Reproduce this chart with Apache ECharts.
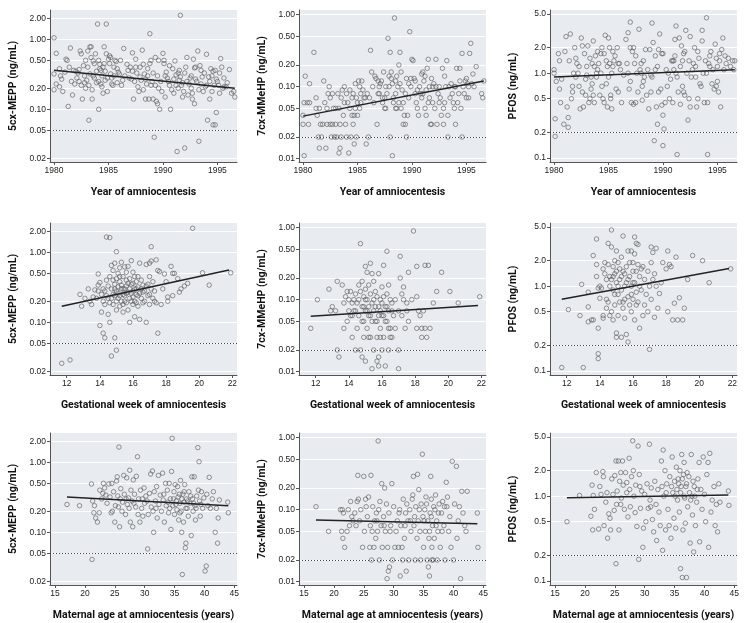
<!DOCTYPE html>
<html><head><meta charset="utf-8">
<script src="https://cdn.jsdelivr.net/npm/echarts@6/dist/echarts.min.js"></script>
<style>html,body{margin:0;padding:0;background:#fff}#c{width:750px;height:623px}</style>
</head><body><div id="c"></div>
<script>
// ---------- tick labels ----------
const yearTicks = [1980, 1985, 1990, 1995];
const gestTicks = [12, 14, 16, 18, 20, 22];
const ageTicks = [15, 20, 25, 30, 35, 40, 45];
const meppTicks = [0.02, 0.05, 0.1, 0.2, 0.5, 1, 2];
const meppTickLabels = ['0.02', '0.05', '0.10', '0.20', '0.50', '1.00', '2.00'];
const mmehpTicks = [0.01, 0.02, 0.05, 0.1, 0.2, 0.5, 1];
const mmehpTickLabels = ['0.01', '0.02', '0.05', '0.10', '0.20', '0.50', '1.00'];
const pfosTicks = [0.1, 0.2, 0.5, 1, 2, 5];
const pfosTickLabels = ['0.1', '0.2', '0.5', '1.0', '2.0', '5.0'];
const lodMEPP = 0.05, lodMMeHP = 0.02, lodPFOS = 0.2;
const xTitles = ['Year of amniocentesis', 'Gestational week of amniocentesis', 'Maternal age at amniocentesis (years)'];
const yTitles = ['5cx-MEPP (ng/mL)', '7cx-MMeHP (ng/mL)', 'PFOS (ng/mL)'];

// ---------- row 1: year of amniocentesis ----------
const meppYear = [[1980.0,1.05],[1980.2,0.63],[1980.0,0.32],[1980.0,0.19],[1980.2,0.23],[1980.5,0.38],[1980.6,0.30],[1980.7,0.27],[1980.5,0.21],[1980.8,0.18],
[1981.1,0.52],[1981.2,0.50],[1981.0,0.34],[1981.3,0.11],[1981.4,0.40],[1981.5,0.75],[1981.6,0.25],[1981.7,0.16],[1981.8,0.36],[1981.9,0.23],
[1982.0,0.35],[1982.2,0.33],[1982.3,0.25],[1982.4,0.68],[1982.5,0.62],[1982.5,0.22],[1982.6,0.14],[1982.7,0.42],[1982.8,0.30],[1982.9,0.50],[1982.9,0.20],[1982.3,0.37],
[1983.1,0.68],[1983.2,0.07],[1983.3,0.78],[1983.4,0.78],[1983.3,0.32],[1983.5,0.14],[1983.5,0.19],[1983.6,0.49],[1983.7,0.45],[1983.7,0.28],[1983.8,0.62],[1983.9,0.35],[1983.0,0.26],[1983.2,0.22],[1983.6,0.30],
[1984.0,1.65],[1984.1,0.10],[1984.2,0.38],[1984.3,0.23],[1984.4,0.30],[1984.5,0.17],[1984.6,0.45],[1984.6,0.78],[1984.7,0.35],[1984.8,1.65],[1984.8,0.62],[1984.9,0.28],[1984.9,0.18],[1984.3,0.36],[1984.5,0.40],[1984.7,0.26],[1984.1,0.25],
[1985.0,0.52],[1985.1,0.45],[1985.2,0.55],[1985.2,0.32],[1985.3,0.28],[1985.4,0.22],[1985.5,0.40],[1985.6,0.50],[1985.7,0.48],[1985.8,0.24],[1985.9,0.34],[1985.1,0.58],[1985.3,0.23],
[1986.0,0.32],[1986.1,0.50],[1986.3,0.26],[1986.4,0.74],[1986.5,0.30],[1986.7,0.44],[1986.8,0.36],
[1987.0,0.40],[1987.1,0.27],[1987.2,0.64],[1987.3,0.14],[1987.4,0.25],[1987.5,0.40],[1987.6,0.33],[1987.7,0.21],[1987.8,0.18],[1987.9,0.40],[1987.5,0.52],[1987.9,0.29],
[1988.0,0.26],[1988.1,0.70],[1988.2,0.19],[1988.3,0.32],[1988.4,0.14],[1988.5,0.23],[1988.6,0.38],[1988.7,0.14],[1988.8,0.45],[1988.8,1.20],[1988.9,0.50],[1988.9,0.22],[1988.2,0.44],[1988.6,0.30],
[1989.0,0.25],[1989.1,0.14],[1989.2,0.04],[1989.3,0.22],[1989.4,0.13],[1989.5,0.30],[1989.6,0.20],[1989.6,0.50],[1989.7,0.10],[1989.8,0.25],[1989.9,0.18],[1989.3,0.55],[1989.5,0.12],
[1990.0,0.63],[1990.1,0.45],[1990.1,0.50],[1990.2,0.15],[1990.3,0.34],[1990.4,0.28],[1990.6,0.22],[1990.7,0.10],[1990.8,0.19],[1990.9,0.38],[1990.5,0.25],
[1991.0,0.17],[1991.1,0.49],[1991.2,0.31],[1991.3,0.025],[1991.4,0.33],[1991.4,0.20],[1991.5,0.26],[1991.6,2.20],[1991.7,0.22],[1991.8,0.15],[1991.9,0.18],[1991.2,0.22],[1991.6,0.29],[1991.8,0.24],
[1992.0,0.028],[1992.1,0.40],[1992.2,0.55],[1992.3,0.16],[1992.4,0.23],[1992.5,0.28],[1992.6,0.20],[1992.7,0.14],[1992.8,0.52],[1992.9,0.39],[1992.9,0.12],[1992.2,0.25],[1992.7,0.17],
[1993.0,0.27],[1993.2,0.68],[1993.3,0.035],[1993.3,0.19],[1993.4,0.42],[1993.5,0.36],[1993.6,0.29],[1993.7,0.18],[1993.8,0.33],[1993.9,0.21],[1993.0,0.40],[1993.5,0.23],
[1994.0,0.61],[1994.1,0.07],[1994.2,0.29],[1994.3,0.25],[1994.3,0.14],[1994.4,0.38],[1994.5,0.18],[1994.6,0.35],[1994.6,0.06],[1994.8,0.06],[1994.9,0.09],[1994.7,0.22],[1994.9,0.27],[1994.8,0.36],
[1995.0,0.25],[1995.1,0.22],[1995.2,0.33],[1995.3,0.53],[1995.4,0.40],[1995.5,0.20],[1995.6,0.28],[1995.8,0.21],[1995.2,0.17],[1995.9,0.24],
[1996.1,0.37],[1996.3,0.17],[1996.5,0.18],[1996.6,0.15],
[1982.1,0.28],[1982.8,0.24],[1983.1,0.40],[1983.9,0.24],[1984.2,0.44],[1984.4,0.21],[1985.5,0.30],[1985.8,0.38],[1986.2,0.22],[1987.2,0.35],[1988.4,0.27],[1989.1,0.33],
[1990.2,0.30],[1990.6,0.42],[1991.0,0.27],[1991.5,0.36],[1992.0,0.33],[1992.6,0.30],[1993.1,0.25],[1994.0,0.22],[1994.5,0.30],[1995.6,0.21],[1983.4,0.55],[1984.1,0.50],[1986.9,0.28]];
const meppYearFit = [[1980, 0.36], [1996.6, 0.20]];

const mmehpYear = [[1980.0,0.04],[1980.0,0.03],[1980.1,0.011],[1980.2,0.14],[1980.1,0.06],[1980.6,0.11],[1980.5,0.03],[1980.4,0.06],[1980.6,0.06],
[1981.0,0.30],[1981.2,0.07],[1981.3,0.04],[1981.2,0.05],[1981.4,0.02],[1981.5,0.014],[1981.5,0.05],[1981.6,0.03],[1981.7,0.02],[1981.8,0.03],[1981.9,0.12],
[1982.1,0.014],[1982.2,0.05],[1982.3,0.08],[1982.4,0.10],[1982.5,0.03],[1982.5,0.07],[1982.6,0.02],[1982.7,0.03],[1982.8,0.05],[1982.9,0.02],[1982.7,0.08],[1982.2,0.03],
[1983.0,0.03],[1983.1,0.02],[1983.2,0.08],[1983.3,0.012],[1983.3,0.05],[1983.4,0.014],[1983.5,0.02],[1983.5,0.07],[1983.6,0.09],[1983.7,0.04],[1983.8,0.10],[1983.9,0.03],[1983.8,0.06],[1983.4,0.03],
[1984.0,0.02],[1984.1,0.06],[1984.2,0.012],[1984.3,0.05],[1984.4,0.02],[1984.5,0.07],[1984.5,0.04],[1984.6,0.08],[1984.6,0.03],[1984.7,0.016],[1984.8,0.05],[1984.8,0.11],[1984.9,0.02],[1984.9,0.07],[1984.3,0.09],[1984.7,0.04],
[1985.0,0.04],[1985.1,0.12],[1985.2,0.10],[1985.3,0.06],[1985.3,0.08],[1985.4,0.12],[1985.5,0.09],[1985.6,0.07],[1985.7,0.07],[1985.8,0.016],[1985.9,0.08],[1985.2,0.05],
[1986.0,0.02],[1986.2,0.32],[1986.3,0.16],[1986.5,0.06],[1986.6,0.14],[1986.7,0.13],[1986.8,0.03],[1986.9,0.12],[1986.9,0.08],[1986.4,0.10],
[1987.0,0.10],[1987.1,0.11],[1987.2,0.12],[1987.3,0.06],[1987.4,0.16],[1987.5,0.05],[1987.5,0.07],[1987.6,0.05],[1987.7,0.08],[1987.8,0.47],[1987.9,0.14],[1987.9,0.10],[1987.3,0.07],
[1988.0,0.30],[1988.1,0.16],[1988.1,0.13],[1988.2,0.11],[1988.2,0.011],[1988.3,0.06],[1988.4,0.90],[1988.5,0.05],[1988.5,0.12],[1988.6,0.14],[1988.7,0.10],[1988.8,0.20],[1988.9,0.30],[1988.9,0.11],[1988.0,0.02],[1988.6,0.05],[1988.3,0.07],
[1989.0,0.16],[1989.1,0.09],[1989.2,0.06],[1989.3,0.04],[1989.4,0.03],[1989.5,0.02],[1989.5,0.13],[1989.6,0.04],[1989.7,0.11],[1989.8,0.58],[1989.9,0.10],[1989.9,0.13],[1989.4,0.08],[1989.2,0.03],[1989.7,0.07],
[1990.0,0.24],[1990.1,0.23],[1990.2,0.13],[1990.3,0.08],[1990.4,0.06],[1990.5,0.09],[1990.6,0.04],[1990.7,0.10],[1990.8,0.08],[1990.9,0.15],[1990.9,0.07],
[1991.0,0.16],[1991.1,0.12],[1991.2,0.14],[1991.2,0.05],[1991.3,0.04],[1991.4,0.18],[1991.5,0.06],[1991.5,0.24],[1991.6,0.10],[1991.7,0.03],[1991.8,0.03],[1991.9,0.10],[1991.3,0.09],[1991.6,0.07],[1991.9,0.06],
[1992.0,0.11],[1992.1,0.05],[1992.2,0.24],[1992.3,0.03],[1992.4,0.08],[1992.5,0.10],[1992.6,0.07],[1992.7,0.04],[1992.8,0.18],[1992.9,0.05],[1992.9,0.03],[1992.5,0.06],
[1993.0,0.14],[1993.1,0.10],[1993.2,0.23],[1993.3,0.02],[1993.4,0.10],[1993.5,0.07],[1993.6,0.11],[1993.7,0.08],[1993.8,0.06],[1993.9,0.05],[1993.3,0.04],[1993.9,0.10],
[1994.0,0.03],[1994.1,0.18],[1994.2,0.06],[1994.3,0.08],[1994.4,0.12],[1994.5,0.05],[1994.6,0.29],[1994.6,0.02],[1994.7,0.10],[1994.8,0.08],[1994.9,0.12],[1994.4,0.18],
[1995.0,0.13],[1995.1,0.11],[1995.2,0.07],[1995.3,0.29],[1995.4,0.40],[1995.5,0.11],[1995.6,0.15],[1995.7,0.10],[1995.9,0.19],[1995.2,0.10],
[1996.4,0.08],[1996.5,0.07],[1996.6,0.12],
[1982.0,0.06],[1983.0,0.05],[1984.0,0.08],[1985.0,0.06],[1986.1,0.07],[1987.0,0.08],[1988.8,0.06],[1989.0,0.05],[1990.5,0.05],[1991.0,0.08],[1992.2,0.10],[1993.0,0.06],
[1994.0,0.10],[1995.0,0.07],[1990.3,0.12],[1991.8,0.13],[1988.5,0.08],[1987.6,0.10]];
const mmehpYearFit = [[1980, 0.039], [1996.6, 0.12]];

const pfosYear = [[1980.0,1.1],[1980.0,1.0],[1980.1,0.29],[1980.1,0.18],[1980.2,0.8],[1980.4,1.7],[1980.5,0.65],[1980.5,1.4],[1980.6,0.45],[1980.7,0.85],[1980.9,0.25],
[1981.0,1.8],[1981.1,2.7],[1981.2,0.40],[1981.3,0.23],[1981.3,0.30],[1981.4,1.4],[1981.5,2.9],[1981.6,0.5],[1981.7,0.7],[1981.8,1.0],[1981.9,2.0],[1981.7,0.6],
[1982.0,1.5],[1982.1,1.3],[1982.2,1.0],[1982.3,0.7],[1982.4,0.38],[1982.5,2.6],[1982.6,2.1],[1982.6,0.6],[1982.7,0.4],[1982.8,1.7],[1982.9,0.85],[1982.9,0.55],[1982.3,1.2],
[1983.0,1.2],[1983.1,2.1],[1983.2,0.45],[1983.3,1.5],[1983.4,0.9],[1983.4,0.65],[1983.5,1.3],[1983.5,0.75],[1983.6,2.4],[1983.6,0.55],[1983.7,1.2],[1983.8,1.6],[1983.9,0.9],[1983.9,1.0],[1983.3,0.5],[1983.7,0.45],
[1984.0,1.8],[1984.1,1.3],[1984.2,0.55],[1984.3,1.0],[1984.4,0.7],[1984.4,2.0],[1984.5,0.5],[1984.6,1.7],[1984.7,2.8],[1984.8,0.75],[1984.8,1.4],[1984.9,0.4],[1984.9,1.2],[1984.3,1.7],[1984.6,0.45],
[1985.0,2.6],[1985.1,2.0],[1985.1,1.3],[1985.2,0.5],[1985.3,0.38],[1985.3,1.0],[1985.4,1.8],[1985.5,1.4],[1985.6,1.6],[1985.7,0.65],[1985.8,2.0],[1985.9,0.6],[1985.2,0.55],[1985.4,1.2],[1985.9,1.3],
[1986.1,1.1],[1986.2,0.45],[1986.4,0.95],[1986.6,2.5],[1986.7,1.3],[1986.8,3.0],[1986.9,0.65],[1986.8,1.0],
[1987.0,4.0],[1987.0,2.0],[1987.1,0.45],[1987.2,1.8],[1987.3,0.43],[1987.4,1.3],[1987.5,0.45],[1987.6,1.0],[1987.7,0.6],[1987.8,3.3],[1987.9,1.1],[1987.5,1.6],[1987.3,2.0],
[1988.0,1.0],[1988.1,0.7],[1988.1,0.48],[1988.2,1.4],[1988.3,0.9],[1988.4,1.9],[1988.5,0.55],[1988.6,1.1],[1988.7,0.38],[1988.8,1.9],[1988.9,0.6],[1988.9,0.95],[1988.2,0.8],
[1989.0,3.9],[1989.1,2.3],[1989.2,0.16],[1989.3,1.6],[1989.4,0.4],[1989.5,1.2],[1989.5,0.25],[1989.6,1.9],[1989.7,2.9],[1989.8,0.65],[1989.9,1.7],[1989.9,0.42],[1989.3,1.1],[1989.6,0.6],
[1990.0,0.32],[1990.0,0.14],[1990.1,0.22],[1990.2,0.45],[1990.3,1.1],[1990.4,0.7],[1990.5,1.0],[1990.6,0.5],[1990.7,0.85],[1990.8,1.4],[1990.9,0.45],[1990.9,1.4],
[1991.0,1.4],[1991.1,1.6],[1991.1,2.5],[1991.2,3.6],[1991.3,0.11],[1991.3,0.9],[1991.4,0.6],[1991.5,2.6],[1991.6,1.2],[1991.6,0.43],[1991.7,2.1],[1991.8,0.7],[1991.9,1.7],[1991.9,0.6],[1991.2,1.0],[1991.8,1.4],
[1992.0,0.55],[1992.1,3.2],[1992.2,1.0],[1992.3,0.28],[1992.4,1.4],[1992.5,2.7],[1992.5,0.4],[1992.6,0.9],[1992.7,1.1],[1992.8,1.3],[1992.9,2.0],[1992.4,0.5],
[1993.0,1.2],[1993.1,0.4],[1993.2,0.5],[1993.3,1.5],[1993.4,0.75],[1993.5,0.7],[1993.6,3.2],[1993.6,2.4],[1993.7,1.0],[1993.8,0.45],[1993.9,1.4],[1993.2,1.8],
[1994.0,4.5],[1994.1,0.11],[1994.1,0.45],[1994.2,1.3],[1994.3,1.6],[1994.4,1.8],[1994.5,0.75],[1994.6,1.1],[1994.7,0.65],[1994.8,2.2],[1994.9,1.5],[1994.9,0.7],[1994.3,1.2],
[1995.0,0.8],[1995.1,0.6],[1995.2,1.4],[1995.3,0.4],[1995.4,1.9],[1995.5,2.6],[1995.6,1.1],[1995.7,1.6],[1995.8,1.3],[1995.2,1.7],
[1996.0,1.5],[1996.2,1.2],[1996.4,1.4],[1996.5,1.1],[1996.6,1.4],
[1983.0,0.95],[1984.0,1.1],[1985.0,0.9],[1986.0,1.3],[1988.0,1.3],[1990.0,1.7],[1991.0,1.1],[1992.0,1.8],[1993.0,0.9],[1994.0,1.0],[1995.0,1.2],[1982.0,0.9],[1989.0,0.9],[1987.0,0.8]];
const pfosYearFit = [[1980, 0.90], [1996.6, 1.10]];

// ---------- row 2: gestational week ----------
const meppGest = [[11.7,0.026],[12.2,0.029],[12.8,0.25],[12.9,0.17],[13.1,0.22],[13.3,0.30],[13.4,0.20],[13.5,0.18],[13.6,0.23],[13.7,0.29],[13.8,0.22],[13.9,0.49],[13.9,0.34],
[14.0,0.09],[14.0,0.37],[14.1,0.25],[14.1,0.14],[14.2,0.07],[14.2,0.30],[14.3,0.06],[14.3,0.18],[14.4,1.65],[14.4,0.40],[14.5,0.13],[14.5,0.22],[14.6,1.62],[14.6,0.10],[14.6,0.45],
[14.7,0.65],[14.7,0.30],[14.7,0.033],[14.8,0.55],[14.8,0.25],[14.8,0.18],[14.9,0.06],[14.9,0.70],[14.9,0.35],[15.0,1.02],[15.0,0.04],[15.0,0.28],[15.0,0.15],[15.1,0.50],[15.1,0.22],
[15.2,0.60],[15.2,0.38],[15.2,0.17],[15.3,0.72],[15.3,0.30],[15.4,0.45],[15.4,0.25],[15.4,0.14],[15.5,0.62],[15.5,0.20],[15.6,0.52],[15.6,0.33],[15.7,0.63],[15.7,0.27],[15.7,0.15],
[15.8,0.42],[15.8,0.10],[15.8,0.22],[15.9,0.76],[15.9,0.35],[16.0,0.52],[16.0,0.28],[16.0,0.18],[16.1,0.45],[16.1,0.12],[16.2,0.38],[16.2,0.25],[16.3,0.32],[16.3,0.17],[16.4,0.70],
[16.4,0.11],[16.5,0.40],[16.5,0.22],[16.6,0.34],[16.6,0.19],[16.7,0.28],[16.8,0.67],[16.8,0.10],[16.9,0.24],[17.0,0.70],[17.0,0.45],[17.0,0.18],[17.1,1.20],[17.1,0.75],[17.1,0.30],
[17.2,0.38],[17.2,0.22],[17.3,0.28],[17.4,0.78],[17.4,0.19],[17.5,0.55],[17.5,0.07],[17.6,0.53],[17.7,0.18],[17.8,0.30],[17.9,0.49],[18.0,0.38],[18.1,0.23],[18.1,0.20],[18.3,0.63],
[18.4,0.50],[18.4,0.24],[18.5,0.50],[18.7,0.42],[18.8,0.27],[18.9,0.30],[19.1,0.33],[19.3,0.36],[19.6,2.20],[20.2,0.51],[20.6,0.34],[21.9,0.51],
[14.5,0.33],[14.9,0.24],[15.1,0.32],[15.3,0.20],[15.6,0.26],[15.9,0.20],[16.1,0.30],[16.3,0.24],[16.6,0.27],[16.9,0.35],[15.5,0.30],[15.0,0.42],[16.0,0.36],[14.2,0.20],[13.9,0.28],
[14.3,0.28],[14.4,0.24],[14.6,0.19],[14.7,0.22],[14.8,0.40],[15.0,0.20],[15.1,0.26],[15.2,0.24],[15.3,0.34],[15.4,0.18],[15.4,0.30],[15.5,0.24],[15.6,0.19],[15.7,0.36],[15.8,0.30],
[15.9,0.26],[16.0,0.23],[16.1,0.20],[16.2,0.19],[16.2,0.30],[16.4,0.26],[16.5,0.30],[16.7,0.20],[16.8,0.33],[17.0,0.25],[17.3,0.20],[15.2,0.45],[15.6,0.40],[16.3,0.45],[14.9,0.30]];
const meppGestFit = [[11.7, 0.17], [21.8, 0.56]];

const mmehpGest = [[11.7,0.04],[12.1,0.10],[12.8,0.14],[12.9,0.07],[13.0,0.08],[13.2,0.07],[13.3,0.18],[13.3,0.02],[13.4,0.016],[13.6,0.16],[13.7,0.09],[13.7,0.04],[13.8,0.11],
[13.9,0.13],[13.9,0.05],[14.0,0.07],[14.0,0.10],[14.1,0.13],[14.1,0.06],[14.2,0.09],[14.2,0.03],[14.3,0.10],[14.3,0.07],[14.4,0.12],[14.4,0.02],[14.5,0.09],[14.5,0.04],[14.6,0.16],
[14.6,0.06],[14.7,0.60],[14.7,0.13],[14.7,0.02],[14.8,0.18],[14.8,0.08],[14.8,0.016],[14.9,0.11],[14.9,0.05],[14.9,0.03],[15.0,0.29],[15.0,0.14],[15.0,0.07],[15.0,0.014],[15.1,0.24],
[15.1,0.10],[15.1,0.04],[15.2,0.16],[15.2,0.06],[15.3,0.32],[15.3,0.12],[15.3,0.03],[15.4,0.23],[15.4,0.09],[15.4,0.011],[15.5,0.18],[15.5,0.07],[15.5,0.02],[15.6,0.13],[15.6,0.05],
[15.7,0.11],[15.7,0.03],[15.7,0.014],[15.8,0.23],[15.8,0.08],[15.8,0.012],[15.8,0.016],[15.9,0.10],[15.9,0.04],[16.0,0.15],[16.0,0.06],[16.0,0.02],[16.1,0.30],[16.1,0.11],[16.1,0.03],
[16.2,0.012],[16.2,0.08],[16.3,0.47],[16.3,0.12],[16.3,0.05],[16.4,0.16],[16.4,0.07],[16.4,0.02],[16.5,0.10],[16.5,0.04],[16.6,0.09],[16.6,0.03],[16.7,0.06],[16.8,0.10],[16.8,0.04],
[17.0,0.011],[17.0,0.02],[17.0,0.07],[17.1,0.20],[17.1,0.40],[17.2,0.12],[17.2,0.06],[17.3,0.15],[17.3,0.10],[17.4,0.04],[17.5,0.07],[17.5,0.09],[17.6,0.24],[17.6,0.05],[17.8,0.10],
[17.9,0.90],[18.1,0.29],[18.1,0.11],[18.1,0.04],[18.2,0.07],[18.3,0.06],[18.4,0.03],[18.4,0.04],[18.5,0.07],[18.6,0.30],[18.6,0.04],[18.7,0.03],[18.8,0.30],[18.9,0.04],[19.1,0.09],
[19.3,0.13],[19.6,0.24],[20.1,0.13],[20.6,0.09],[21.9,0.11],
[14.2,0.06],[14.4,0.07],[14.6,0.10],[14.8,0.05],[15.0,0.10],[15.2,0.08],[15.4,0.05],[15.6,0.08],[15.8,0.06],[16.0,0.09],[16.2,0.05],[16.4,0.04],[16.6,0.07],[15.1,0.07],[15.5,0.10],
[15.9,0.07],[16.3,0.08],[15.3,0.06],[14.9,0.08],[16.1,0.06],[15.7,0.05],[15.9,0.03],[15.2,0.03],[16.5,0.03]];
const mmehpGestFit = [[11.7, 0.059], [21.8, 0.083]];

const pfosGest = [[11.7,0.11],[12.1,0.53],[12.8,0.45],[12.9,1.05],[13.0,0.11],[13.3,0.85],[13.3,0.38],[13.3,0.57],[13.5,0.40],[13.6,0.40],[13.6,2.3],[13.8,1.8],[13.8,3.6],[13.8,1.3],
[13.9,0.95],[13.9,0.32],[13.9,0.16],[13.9,0.14],[14.0,1.0],[14.0,0.72],[14.1,0.95],[14.2,1.6],[14.2,0.45],[14.2,0.42],[14.3,1.9],[14.3,1.4],[14.4,0.7],[14.4,0.55],[14.5,3.2],[14.5,1.8],
[14.5,0.65],[14.6,1.3],[14.6,0.45],[14.7,4.6],[14.7,2.9],[14.7,1.2],[14.7,0.5],[14.8,1.7],[14.8,0.9],[14.8,0.4],[14.9,2.0],[14.9,1.4],[14.9,0.6],[15.0,2.6],[15.0,1.1],[15.0,0.28],
[15.0,0.25],[15.1,1.9],[15.1,0.8],[15.1,0.45],[15.2,1.6],[15.2,0.65],[15.3,2.2],[15.3,1.3],[15.3,0.25],[15.4,3.9],[15.4,1.5],[15.4,0.55],[15.5,1.0],[15.5,0.42],[15.6,1.7],[15.6,0.27],
[15.7,2.6],[15.7,1.2],[15.7,0.22],[15.7,0.75],[15.8,1.9],[15.8,0.6],[15.9,2.6],[15.9,1.0],[15.9,0.5],[16.0,1.5],[16.0,0.7],[16.1,3.8],[16.1,2.4],[16.1,1.1],[16.1,0.4],[16.2,3.2],
[16.2,0.85],[16.3,3.1],[16.3,1.8],[16.3,0.65],[16.4,1.3],[16.4,0.32],[16.5,1.6],[16.5,0.9],[16.6,0.45],[16.7,1.2],[16.7,0.6],[16.8,0.8],[16.9,1.5],[16.9,0.5],[17.0,0.18],[17.0,1.0],
[17.1,2.9],[17.1,1.9],[17.1,0.7],[17.2,2.5],[17.2,1.2],[17.3,0.43],[17.3,1.4],[17.4,2.8],[17.4,1.0],[17.5,0.55],[17.6,0.82],[17.7,1.1],[17.8,1.9],[18.0,1.6],[18.1,2.6],[18.1,0.5],
[18.2,1.8],[18.3,1.7],[18.4,0.4],[18.5,0.63],[18.6,2.2],[18.7,0.4],[18.8,0.73],[19.0,0.4],[19.1,0.55],[19.3,1.2],[19.6,2.3],[20.2,2.0],[20.6,1.1],[21.9,1.6],
[14.4,1.2],[14.6,1.0],[14.8,1.3],[15.0,1.5],[15.2,1.2],[15.3,0.9],[15.5,1.4],[15.6,1.1],[15.8,1.3],[16.0,1.1],[16.2,1.5],[16.4,1.0],[16.6,1.7],[15.1,1.0],[15.5,0.7],
[15.9,0.8],[16.2,0.6],[14.9,0.8],[15.4,0.65],[16.0,1.9]];
const pfosGestFit = [[11.7, 0.70], [21.8, 1.62]];

// ---------- row 3: maternal age ----------
const meppAge = [[17.0,0.25],[19.1,0.24],[21.1,0.49],[21.2,0.041],[21.3,0.28],[21.5,0.19],[21.6,0.24],[21.8,0.16],[22.1,0.14],[22.4,0.19],[22.5,0.40],[22.8,0.30],[23.0,0.36],[23.1,0.50],
[23.3,0.43],[23.5,0.34],[23.7,0.26],[24.0,0.49],[24.2,0.32],[24.4,0.19],[24.5,0.50],[24.6,0.20],[24.8,0.38],[25.0,0.14],[25.1,0.24],[25.3,0.54],[25.4,0.62],[25.5,0.33],[25.6,0.23],
[25.7,1.65],[25.8,0.12],[25.9,0.30],[26.0,0.42],[26.2,0.20],[26.3,0.27],[26.5,0.65],[26.6,0.35],[26.8,0.18],[27.0,0.60],[27.1,0.25],[27.3,0.31],[27.4,0.22],[27.5,0.77],[27.6,0.14],
[27.7,0.40],[27.9,0.28],[28.0,0.12],[28.1,0.56],[28.3,0.35],[28.5,0.23],[28.6,0.63],[28.8,1.20],[28.9,0.18],[29.0,0.30],[29.2,0.14],[29.3,0.40],[29.5,0.22],[29.7,0.17],[29.9,0.43],
[30.0,0.26],[30.2,0.33],[30.5,0.058],[30.6,0.18],[30.8,0.36],[31.0,0.68],[31.1,0.23],[31.3,0.75],[31.4,0.20],[31.5,0.10],[31.6,0.38],[31.8,0.28],[32.0,0.45],[32.1,0.16],[32.3,0.65],
[32.4,0.25],[32.6,0.34],[32.8,0.20],[33.0,0.70],[33.1,0.29],[33.3,0.14],[33.5,0.50],[33.6,0.24],[33.8,0.40],[34.0,0.19],[34.1,0.50],[34.3,0.30],[34.4,0.11],[34.5,0.74],[34.6,2.20],
[34.7,0.24],[34.9,0.38],[35.0,0.18],[35.1,0.48],[35.3,0.28],[35.4,0.21],[35.5,0.45],[35.6,0.32],[35.7,0.15],[35.9,0.26],[36.0,0.55],[36.1,0.20],[36.2,0.10],[36.3,0.025],[36.4,0.35],
[36.5,0.14],[36.6,0.27],[36.7,0.48],[36.8,0.06],[36.9,0.07],[37.0,0.30],[37.1,0.22],[37.3,0.17],[37.4,0.38],[37.6,0.26],[37.8,0.09],[37.9,0.62],[38.0,0.30],[38.1,0.20],[38.3,0.62],
[38.4,0.24],[38.5,0.15],[38.7,0.33],[38.9,1.62],[39.0,0.40],[39.1,1.02],[39.2,0.28],[39.3,0.17],[39.5,0.38],[39.7,0.22],[39.9,0.31],[40.1,0.028],[40.3,0.033],[40.4,0.35],[40.6,0.24],
[40.8,0.61],[41.0,0.22],[41.3,0.30],[41.5,0.38],[41.8,0.10],[42.0,0.22],[42.2,0.07],[42.3,0.16],[42.5,0.29],[43.9,0.27],[44.0,0.19],
[33.2,0.35],[34.8,0.30],[35.2,0.25],[35.8,0.35],[36.2,0.30],[36.6,0.38],[36.9,0.22],[37.2,0.28],[37.7,0.33],[38.2,0.26],[38.6,0.22],[39.4,0.25],[30.4,0.28],[31.9,0.22],
[33.9,0.27],[34.2,0.22],[26.9,0.30],[28.2,0.26],[29.6,0.30],[35.9,0.19]];
const meppAgeFit = [[17, 0.32], [44, 0.24]];

const mmehpAge = [[17.0,0.11],[19.1,0.05],[21.1,0.10],[21.3,0.05],[21.4,0.10],[21.5,0.04],[21.6,0.09],[21.8,0.03],[22.2,0.05],[22.4,0.10],[22.6,0.06],[22.8,0.13],[23.0,0.08],[23.2,0.07],
[23.5,0.09],[23.7,0.06],[23.9,0.13],[24.0,0.30],[24.1,0.14],[24.3,0.07],[24.5,0.10],[24.8,0.03],[25.0,0.29],[25.1,0.05],[25.3,0.14],[25.4,0.11],[25.6,0.08],[25.8,0.15],[26.0,0.03],
[26.1,0.06],[26.2,0.30],[26.3,0.02],[26.5,0.11],[26.7,0.03],[26.8,0.07],[27.0,0.04],[27.1,0.09],[27.3,0.05],[27.4,0.90],[27.5,0.10],[27.6,0.02],[27.7,0.13],[27.9,0.06],[28.0,0.23],
[28.1,0.03],[28.3,0.08],[28.5,0.20],[28.6,0.05],[28.8,0.12],[28.9,0.011],[29.0,0.03],[29.1,0.014],[29.2,0.09],[29.3,0.016],[29.5,0.06],[29.7,0.23],[29.8,0.02],[30.0,0.11],[30.2,0.03],
[30.4,0.05],[30.6,0.07],[30.8,0.03],[31.0,0.10],[31.1,0.012],[31.2,0.06],[31.4,0.03],[31.5,0.02],[31.6,0.14],[31.8,0.04],[32.0,0.09],[32.1,0.014],[32.2,0.12],[32.4,0.07],[32.5,0.02],
[32.7,0.10],[32.9,0.05],[33.1,0.14],[33.2,0.16],[33.3,0.29],[33.4,0.06],[33.6,0.02],[33.7,0.11],[33.9,0.04],[34.0,0.31],[34.1,0.07],[34.2,0.19],[34.4,0.05],[34.5,0.02],[34.6,0.12],
[34.8,0.59],[34.9,0.08],[35.0,0.03],[35.2,0.10],[35.3,0.05],[35.4,0.15],[35.6,0.02],[35.7,0.07],[35.8,0.016],[35.9,0.04],[36.0,0.012],[36.1,0.09],[36.2,0.29],[36.3,0.14],[36.4,0.03],
[36.5,0.06],[36.6,0.02],[36.7,0.11],[36.8,0.04],[37.0,0.16],[37.2,0.07],[37.4,0.05],[37.6,0.12],[37.8,0.03],[38.0,0.09],[38.2,0.13],[38.4,0.06],[38.6,0.02],[38.8,0.24],[38.9,0.11],
[39.0,0.15],[39.2,0.05],[39.4,0.08],[39.6,0.03],[39.8,0.47],[40.0,0.02],[40.2,0.12],[40.5,0.40],[40.6,0.04],[40.8,0.07],[41.0,0.11],[41.2,0.011],[41.4,0.18],[41.6,0.09],[41.9,0.06],
[42.1,0.05],[42.3,0.18],[44.0,0.09],[44.1,0.03],
[34.3,0.10],[35.1,0.07],[35.5,0.12],[36.0,0.05],[36.3,0.08],[36.9,0.10],[37.1,0.06],[37.5,0.09],[38.1,0.05],[38.5,0.11],[33.5,0.08],[32.8,0.07],[31.9,0.06],[30.9,0.09],
[29.4,0.05],[28.4,0.06],[26.4,0.05],[27.2,0.07],[36.4,0.02],[37.3,0.02]];
const mmehpAgeFit = [[17, 0.072], [44, 0.064]];

const pfosAge = [[17.0,0.50],[19.1,1.02],[21.0,0.58],[21.2,1.35],[21.3,0.40],[21.4,1.02],[21.6,0.70],[21.9,1.90],[22.3,0.41],[22.5,1.30],[22.7,1.05],[23.0,1.95],[23.1,1.70],[23.2,0.45],
[23.5,0.85],[23.7,1.10],[23.8,0.32],[24.0,0.62],[24.2,0.55],[24.3,0.40],[24.5,1.60],[24.7,1.05],[24.9,0.68],[25.0,1.75],[25.2,2.60],[25.2,0.16],[25.3,0.80],[25.4,1.15],[25.6,2.60],
[25.7,0.40],[25.8,1.50],[26.0,1.90],[26.1,0.95],[26.3,2.60],[26.4,1.35],[26.6,0.70],[26.8,1.90],[27.0,1.45],[27.2,0.57],[27.4,2.80],[27.5,1.20],[27.6,0.75],[27.8,1.70],[28.0,4.50],
[28.1,2.00],[28.2,1.00],[28.4,0.64],[28.5,1.35],[28.7,0.44],[28.9,3.90],[29.0,0.18],[29.1,1.80],[29.3,0.72],[29.5,1.15],[29.7,0.25],[29.8,0.42],[30.0,1.05],[30.2,0.50],[30.4,1.40],
[30.6,0.72],[30.8,4.10],[30.9,0.90],[31.1,1.25],[31.3,0.53],[31.5,0.38],[31.7,1.50],[31.9,0.80],[32.0,0.30],[32.2,1.20],[32.4,0.65],[32.6,0.45],[32.8,2.60],[33.0,0.23],[33.1,3.50],
[33.2,1.00],[33.4,2.00],[33.5,0.40],[33.7,1.40],[33.9,0.70],[34.1,0.45],[34.2,1.70],[34.4,0.32],[34.6,2.90],[34.7,1.10],[34.9,0.55],[35.0,1.50],[35.2,0.42],[35.3,2.20],[35.5,0.90],
[35.6,1.60],[35.8,0.65],[35.9,2.00],[36.0,0.14],[36.1,1.30],[36.2,3.10],[36.3,0.11],[36.4,0.40],[36.5,1.80],[36.6,2.50],[36.7,0.95],[36.8,0.48],[37.0,0.11],[37.0,1.40],[37.2,0.75],
[37.4,1.70],[37.6,0.28],[37.8,3.10],[37.9,1.00],[38.0,0.60],[38.2,0.22],[38.3,1.30],[38.5,0.45],[38.7,0.85],[38.9,1.60],[39.1,2.50],[39.2,0.29],[39.4,1.20],[39.6,0.70],[39.8,2.90],
[40.0,1.05],[40.2,0.50],[40.4,1.80],[40.6,2.50],[40.7,0.25],[40.9,3.20],[41.1,0.65],[41.3,0.90],[41.6,1.30],[41.8,0.45],[42.0,0.80],[42.2,0.38],[42.4,1.40],[42.6,0.85],[44.0,1.15],[44.1,0.78],
[34.5,1.3],[35.1,1.0],[35.4,1.2],[35.7,1.4],[36.0,1.1],[36.3,1.6],[36.6,1.0],[36.9,1.3],[37.1,1.9],[37.5,1.1],[37.7,0.9],[38.1,1.5],[38.4,1.0],[38.8,1.2],
[33.6,1.1],[32.9,1.3],[31.0,0.75],[27.0,1.1],[26.0,0.8],[29.2,1.3]];
const pfosAgeFit = [[17, 0.96], [44, 1.03]];

// ---------- layout / assembly ----------
const TITLE_FONT = "Roboto, 'Liberation Sans', sans-serif";
const TICK_FONT = "'Liberation Sans', Roboto, sans-serif";
const colLeft = [50, 299, 550];
const rowTop = [10, 223, 433];
const PW = 187, PH = 152;
const xTickSets = [yearTicks, gestTicks, ageTicks];
const xRanges = [[1979.63, 1996.8], [10.99, 22.28], [14.16, 45.45]];
const yDefs = [
  { ticks: meppTicks, labels: meppTickLabels, range: [-1.752, 0.418], lod: lodMEPP },
  { ticks: mmehpTicks, labels: mmehpTickLabels, range: [-2.046, 0.065], lod: lodMMeHP },
  { ticks: pfosTicks, labels: pfosTickLabels, range: [-1.047, 0.745], lod: lodPFOS }
];
const panelData = [
  [[meppYear, meppYearFit], [mmehpYear, mmehpYearFit], [pfosYear, pfosYearFit]],
  [[meppGest, meppGestFit], [mmehpGest, mmehpGestFit], [pfosGest, pfosGestFit]],
  [[meppAge, meppAgeFit], [mmehpAge, mmehpAgeFit], [pfosAge, pfosAgeFit]]
];

const grid = [], xAxis = [], yAxis = [], series = [];
const toLog = arr => arr.map(p => [p[0], Math.log10(p[1])]);
const titleStyle = { fontFamily: TITLE_FONT, fontWeight: 'bold', fontSize: 10.5, color: '#111' };
let k = 0;
for (let r = 0; r < 3; r++) {
  for (let c = 0; c < 3; c++) {
    const yd = yDefs[c];
    grid.push({ left: colLeft[c], top: rowTop[r], width: PW, height: PH, show: true,
      backgroundColor: '#e8ecf0', borderWidth: 0 });
    xAxis.push({
      type: 'value', gridIndex: k, min: xRanges[r][0], max: xRanges[r][1],
      name: xTitles[r], nameLocation: 'middle', nameGap: 25, nameTextStyle: titleStyle,
      axisLine: { show: true, onZero: false, lineStyle: { color: '#555', width: 1 } },
      axisTick: { show: true, length: 3, lineStyle: { color: '#555' }, customValues: xTickSets[r] },
      axisLabel: { fontFamily: TICK_FONT, fontSize: 8.5, color: '#222', margin: 4, customValues: xTickSets[r],
        formatter: v => String(v) },
      splitLine: { show: false }
    });
    const tickLogs = yd.ticks.map(t => Math.log10(t));
    yAxis.push({
      type: 'value', gridIndex: k, min: yd.range[0], max: yd.range[1],
      name: yTitles[c], nameLocation: 'middle', nameGap: 31, nameTextStyle: titleStyle,
      axisLine: { show: true, onZero: false, lineStyle: { color: '#555', width: 1 } },
      axisTick: { show: true, length: 3, lineStyle: { color: '#555' }, customValues: tickLogs },
      axisLabel: { fontFamily: TICK_FONT, fontSize: 8.5, color: '#222', margin: 4, customValues: tickLogs,
        formatter: v => { const i = tickLogs.findIndex(t => Math.abs(t - v) < 1e-6); return i >= 0 ? yd.labels[i] : ''; } },
      splitLine: { show: true, lineStyle: { color: '#ffffff', width: 1 } }
    });
    const [pts, fit] = panelData[r][c];
    series.push({
      type: 'scatter', xAxisIndex: k, yAxisIndex: k, data: toLog(pts),
      symbol: 'circle', symbolSize: 4.5,
      itemStyle: { color: 'rgba(0,0,0,0)', borderColor: '#5a5a5a', borderWidth: 0.8 },
      markLine: { silent: true, symbol: 'none', label: { show: false },
        lineStyle: { color: '#444', type: [1, 2], width: 1 },
        data: [{ yAxis: Math.log10(yd.lod) }] },
      z: 2
    });
    series.push({
      type: 'line', xAxisIndex: k, yAxisIndex: k, data: toLog(fit),
      showSymbol: false, symbol: 'none', lineStyle: { color: '#222', width: 1.5 }, z: 3
    });
    k++;
  }
}

const chart = echarts.init(document.getElementById('c'), null, { renderer: 'canvas' });
chart.setOption({ animation: false, backgroundColor: '#ffffff', grid, xAxis, yAxis, series });
</script>
</body></html>
